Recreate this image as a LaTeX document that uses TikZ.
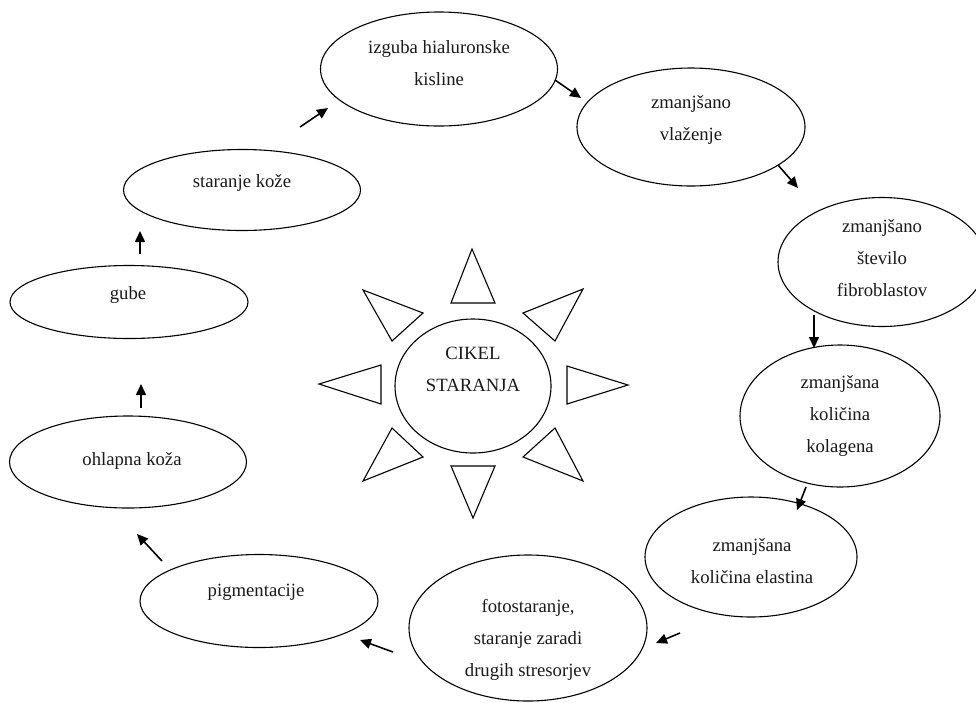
\documentclass[tikz,border=0pt]{standalone}
\usepackage{fontspec}
\setmainfont{Liberation Serif}
\usetikzlibrary{shapes.geometric,arrows.meta}
\begin{document}
\begin{tikzpicture}[x=1pt,y=-1pt,
  ell/.style={draw=black,line width=1.1pt,ellipse,inner sep=0pt},
  txt/.style={align=center,inner sep=0pt,font=\fontsize{18.7}{32}\selectfont,text=black!90},
  arr/.style={line width=1.6pt,-{Triangle[length=11pt,width=10pt]}},
  ray/.style={draw=black,line width=1.1pt,line join=miter}]
\useasboundingbox (0,0) rectangle (976,702);
% ellipses
\node[ell,minimum width=237pt,minimum height=114pt] (e1) at (439,69) {};
\node[ell,minimum width=228pt,minimum height=118pt] (e2) at (691,127) {};
\node[ell,minimum width=208pt,minimum height=129pt] (e3) at (882,262) {};
\node[ell,minimum width=200pt,minimum height=142pt] (e4) at (840,416) {};
\node[ell,minimum width=212pt,minimum height=120pt] (e5) at (751,557) {};
\node[ell,minimum width=238pt,minimum height=146pt] (e6) at (528,628) {};
\node[ell,minimum width=238pt,minimum height=93pt] (e7) at (259,601) {};
\node[ell,minimum width=237pt,minimum height=92pt] (e8) at (128,462) {};
\node[ell,minimum width=238pt,minimum height=73pt] (e9) at (129,302) {};
\node[ell,minimum width=237pt,minimum height=81pt] (e10) at (242,190) {};
\node[ell,minimum width=156pt,minimum height=134pt] (c) at (473,386) {};
% texts
\node[txt] (t1) at (439,63) {izguba hialuronske\\kisline};
\node[txt] (t2) at (691,120) {zmanjšano\\vlaženje};
\node[txt] (t3) at (882,258) {zmanjšano\\število\\fibroblastov};
\node[txt] (t4) at (840,416) {zmanjšana\\količina\\kolagena};
\node[txt] (t5) at (752,561) {zmanjšana\\količina elastina};
\node[txt] (t6) at (528,640) {fotostaranje,\\staranje zaradi\\drugih stresorjev};
\node[txt] (t7) at (256,592) {pigmentacije};
\node[txt] (t8) at (132,461) {ohlapna koža};
\node[txt] (t9) at (128,295) {gube};
\node[txt] (t10) at (242,183) {staranje kože};
\node[txt] (tc) at (473,369) {CIKEL\\STARANJA};
% sun rays
\draw[ray] (472,249) -- (451,303) -- (495,303) -- cycle;
\draw[ray] (473,518) -- (451,466) -- (495,466) -- cycle;
\draw[ray] (319,384) -- (381,365) -- (381,404) -- cycle;
\draw[ray] (628,385) -- (567,366) -- (567,404) -- cycle;
\draw[ray] (363,290) -- (423,313) -- (392,341) -- cycle;
\draw[ray] (583,289) -- (523,313) -- (555,341) -- cycle;
\draw[ray] (363,481) -- (423,457) -- (392,428) -- cycle;
\draw[ray] (583,481) -- (523,457) -- (555,428) -- cycle;
% arrow end points
\coordinate (a1s) at (300,127); \coordinate (a1e) at (328,108);
\coordinate (a2s) at (555,80);  \coordinate (a2e) at (581,98);
\coordinate (a3s) at (778,165); \coordinate (a3e) at (798,188);
\coordinate (a4s) at (814,315); \coordinate (a4e) at (814,348);
\coordinate (a5s) at (806,487); \coordinate (a5e) at (797,510);
\coordinate (a6s) at (680,633); \coordinate (a6e) at (656,643);
\coordinate (a7s) at (393,652); \coordinate (a7e) at (360,640);
\coordinate (a8s) at (162,561); \coordinate (a8e) at (137,534);
\coordinate (a9s) at (141,408); \coordinate (a9e) at (141,384);
\coordinate (a10s) at (140,254); \coordinate (a10e) at (140,231);
\foreach \i in {1,...,10} {\draw[arr] (a\i s) -- (a\i e);}
\end{tikzpicture}
\end{document}
